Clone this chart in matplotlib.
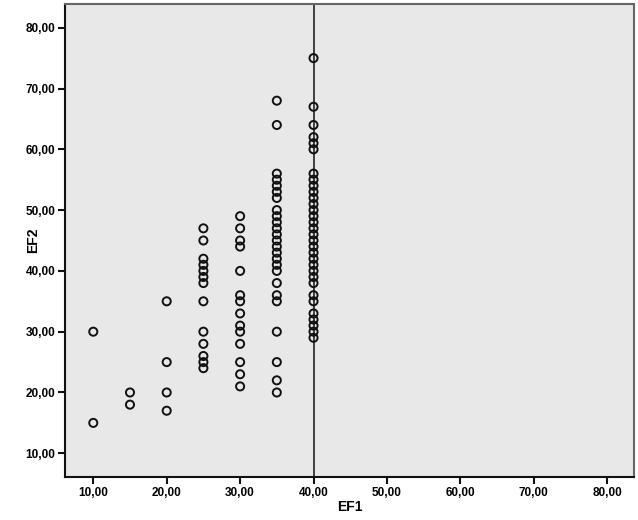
import matplotlib
matplotlib.use("Agg")
import matplotlib.pyplot as plt
from matplotlib.ticker import FuncFormatter

# EF1 groups and the EF2 values
ef1_levels = [10, 15, 20, 25, 30, 35, 40]
ef2_values = [
    [30, 15],
    [20, 18],
    [35, 25, 20, 17],
    [47, 45, 42, 41, 40, 39, 38, 35, 30, 28, 26, 25, 24],
    [49, 47, 45, 44, 40, 36, 35, 33, 31, 30, 28, 25, 23, 21],
    [68, 64, 56, 55, 54, 53, 52, 50, 49, 48, 47, 46, 45, 44, 43, 42,
     41, 40, 38, 36, 35, 30, 25, 22, 20],
    [75, 67, 64, 62, 61, 60, 56, 55, 54, 53, 52, 51, 50, 49, 48, 47,
     46, 45, 44, 43, 42, 41, 40, 39, 38, 36, 35, 33, 32, 31, 30, 29],
]
ticks = [10, 20, 30, 40, 50, 60, 70, 80]
ref_line = 40

plt.rcParams['font.family'] = ['Liberation Sans', 'DejaVu Sans']

fig = plt.figure(figsize=(6.38, 5.2), dpi=100)
ax = fig.add_axes([0.1019, 0.0827, 0.8918, 0.9096])
ax.set_facecolor('#e8e8e8')

xs, ys = [], []
for lvl, vals in zip(ef1_levels, ef2_values):
    xs += [lvl] * len(vals)
    ys += vals
ax.scatter(xs, ys, s=34, facecolors='none', edgecolors='#111111',
           linewidths=1.4, zorder=3)

ax.axvline(ref_line, color='#111111', lw=1.1, zorder=2)

ax.set_xlim(6.15, 83.65)
ax.set_ylim(6.1, 83.9)
ax.set_xticks(ticks)
ax.set_yticks(ticks)
fmt = FuncFormatter(lambda v, p: f"{v:.2f}".replace('.', ','))
ax.xaxis.set_major_formatter(fmt)
ax.yaxis.set_major_formatter(fmt)
ax.tick_params(direction='out', length=5, width=1.5, color='#111111',
               labelsize=8.5, pad=2)
for lab in ax.get_xticklabels() + ax.get_yticklabels():
    lab.set_fontweight('bold')

ax.set_xlabel('EF1', fontsize=10, fontweight='bold', labelpad=1)
ax.set_ylabel('EF2', fontsize=10, fontweight='bold')
ax.yaxis.set_label_coords(-0.044, 0.5)

for side in ['left', 'bottom']:
    ax.spines[side].set_color('#111111')
    ax.spines[side].set_linewidth(1.5)
for side in ['top', 'right']:
    ax.spines[side].set_color('#666666')
    ax.spines[side].set_linewidth(1.5)

fig.savefig('out.png', dpi=100)
